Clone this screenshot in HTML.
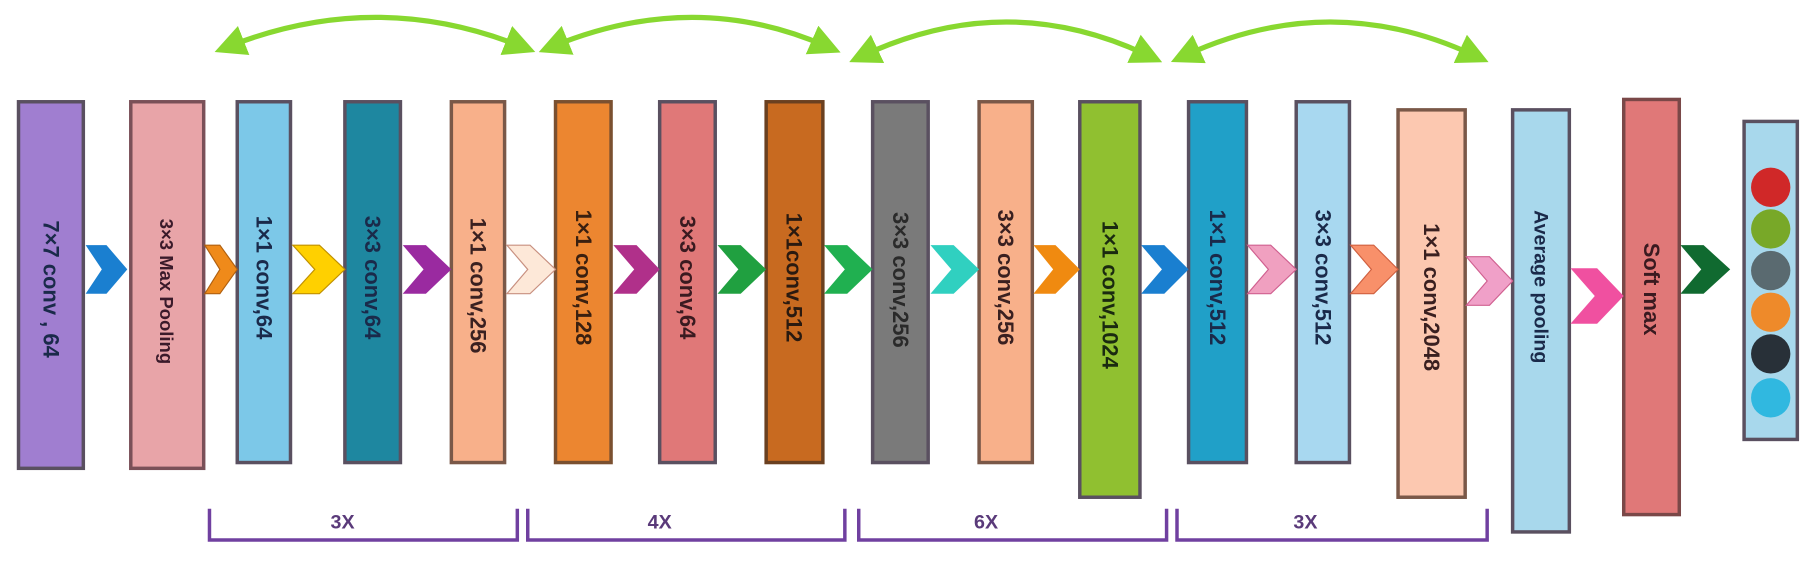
<!DOCTYPE html>
<html><head><meta charset="utf-8"><style>
html,body{margin:0;padding:0;background:#fff;}
svg{display:block}
text{font-family:"Liberation Sans",sans-serif;font-weight:bold;}
</style></head><body>
<svg width="1817" height="562" viewBox="0 0 1570 486" preserveAspectRatio="none" xmlns="http://www.w3.org/2000/svg">
<defs>
<marker id="ah" markerWidth="6" markerHeight="6" refX="3" refY="3" orient="auto-start-reverse" markerUnits="strokeWidth">
<path d="M0,0 L6,3 L0,6 Z" fill="#88d830"/></marker>
</defs>
<!-- arcs -->
<g fill="none" stroke="#88d830" stroke-width="4.5">
<path d="M198,40 Q325,-10 450,40" marker-start="url(#ah)" marker-end="url(#ah)"/>
<path d="M478,40 Q600,-10 714,40" marker-start="url(#ah)" marker-end="url(#ah)"/>
<path d="M746,48 Q870,-10 992,48" marker-start="url(#ah)" marker-end="url(#ah)"/>
<path d="M1024,48 Q1150,-10 1274,48" marker-start="url(#ah)" marker-end="url(#ah)"/>
</g>
<!-- boxes -->
<g stroke="#5a5060" stroke-width="3">
<rect x="16" y="88" width="56" height="317" fill="#a07ed0"/>
<rect x="113" y="88" width="63" height="317" fill="#e8a4a8" stroke="#7a5058"/>
<rect x="205" y="88" width="46" height="312" fill="#7cc8e8"/>
<rect x="298" y="88" width="48" height="312" fill="#1e87a0"/>
<rect x="390" y="88" width="46" height="312" fill="#f8b08a" stroke="#7a5848"/>
<rect x="480" y="88" width="48" height="312" fill="#ec8630" stroke="#7a5030"/>
<rect x="570" y="88" width="48" height="312" fill="#e07878"/>
<rect x="662" y="88" width="49" height="312" fill="#c86a20" stroke="#6a4020"/>
<rect x="754" y="88" width="48" height="312" fill="#7a7a7a"/>
<rect x="846" y="88" width="46" height="312" fill="#f8b08a" stroke="#7a5848"/>
<rect x="933" y="88" width="52" height="342" fill="#90c030"/>
<rect x="1027" y="88" width="50" height="312" fill="#20a0c8"/>
<rect x="1120" y="88" width="46" height="312" fill="#a8d8f0"/>
<rect x="1208" y="95" width="58" height="335" fill="#fcc8b0" stroke="#7a5848"/>
<rect x="1307" y="95" width="49" height="365" fill="#a8d8ec"/>
<rect x="1403" y="86" width="48" height="359" fill="#e07878" stroke="#7a4848"/>
<rect x="1507" y="105" width="46" height="275" fill="#a8d8ec"/>
</g>
<!-- circles -->
<circle cx="1530" cy="162" r="17" fill="#d02828"/>
<circle cx="1530" cy="198" r="17" fill="#78a828"/>
<circle cx="1530" cy="234" r="17" fill="#5a6a70"/>
<circle cx="1530" cy="270" r="17" fill="#ee8a2a"/>
<circle cx="1530" cy="306" r="17" fill="#283038"/>
<circle cx="1530" cy="344" r="17" fill="#30b8e0"/>
<!-- chevrons -->
<g stroke-width="1">
<polygon points="74,212 92,212 110,233 92,254 74,254 88,233" fill="#1a7fd0"/>
<polygon points="177,212 190,212 205,233 190,254 177,254 190,233" fill="#ef8a1a" stroke="#b06010"/>
<polygon points="253,212 276,212 298,233 276,254 253,254 272,233" fill="#ffd000" stroke="#c09000"/>
<polygon points="348,212 368,212 390,233 368,254 348,254 366,233" fill="#9a2aa0"/>
<polygon points="438,212 458,212 480,233 458,254 438,254 456,233" fill="#fde8d8" stroke="#c89080"/>
<polygon points="530,212 550,212 570,233 550,254 530,254 548,233" fill="#b0308a"/>
<polygon points="620,212 640,212 662,233 640,254 620,254 638,233" fill="#20a040"/>
<polygon points="712,212 732,212 754,233 732,254 712,254 730,233" fill="#20b050"/>
<polygon points="804,212 824,212 846,233 824,254 804,254 822,233" fill="#30d0c0"/>
<polygon points="893,212 912,212 933,233 912,254 893,254 910,233" fill="#f08a10"/>
<polygon points="986,212 1006,212 1027,233 1006,254 986,254 1004,233" fill="#1a7fd0"/>
<polygon points="1078,212 1098,212 1120,233 1098,254 1078,254 1096,233" fill="#f0a0c0" stroke="#d06090"/>
<polygon points="1167,212 1187,212 1208,233 1187,254 1167,254 1185,233" fill="#f8906a" stroke="#d06040"/>
<polygon points="1267,222 1287,222 1307,243 1287,264 1267,264 1285,243" fill="#f0a0c8" stroke="#d06090"/>
<polygon points="1357,232 1380,232 1403,256 1380,280 1357,280 1378,256" fill="#f050a0"/>
<polygon points="1452,212 1472,212 1495,233 1472,254 1452,254 1470,233" fill="#106a30"/>
</g>
<!-- labels -->
<g fill="#1a2a4a" font-size="19" text-anchor="middle" dominant-baseline="central">
<text transform="translate(44,250) rotate(90)">7×7  conv , 64</text>
<text transform="translate(144,252) rotate(90)" font-size="16" fill="#3a1a2a">3×3 Max Pooling</text>
<text transform="translate(228,240) rotate(90)">1×1 conv,64</text>
<text transform="translate(322,240) rotate(90)">3×3 conv,64</text>
<text transform="translate(413,247) rotate(90)" fill="#3a2020">1×1 conv,256</text>
<text transform="translate(504,240) rotate(90)" fill="#3a2010">1×1 conv,128</text>
<text transform="translate(594,240) rotate(90)" fill="#3a1a20">3×3 conv,64</text>
<text transform="translate(686,240) rotate(90)" fill="#2a1a10">1×1conv,512</text>
<text transform="translate(778,242) rotate(90)" fill="#2a2a2a">3×3 conv,256</text>
<text transform="translate(869,240) rotate(90)" fill="#3a2020">3×3 conv,256</text>
<text transform="translate(959,255) rotate(90)" fill="#1a2a10">1×1 conv,1024</text>
<text transform="translate(1052,240) rotate(90)">1×1 conv,512</text>
<text transform="translate(1143,240) rotate(90)">3×3 conv,512</text>
<text transform="translate(1237,257) rotate(90)" fill="#3a2020">1×1 conv,2048</text>
<text transform="translate(1331,248) rotate(90)" font-size="17">Average pooling</text>
<text transform="translate(1427,250) rotate(90)" fill="#3a1a20">Soft max</text>
</g>
<!-- brackets -->
<g fill="none" stroke="#7040a0" stroke-width="3">
<path d="M181,440 V467 H447 V440"/>
<path d="M456,440 V467 H730 V440"/>
<path d="M742,440 V467 H1008 V440"/>
<path d="M1017,440 V467 H1285 V440"/>
</g>
<g fill="#5a3a7a" font-size="17" text-anchor="middle">
<text x="296" y="457">3X</text>
<text x="570" y="457">4X</text>
<text x="852" y="457">6X</text>
<text x="1128" y="457">3X</text>
</g>
</svg>
</body></html>
